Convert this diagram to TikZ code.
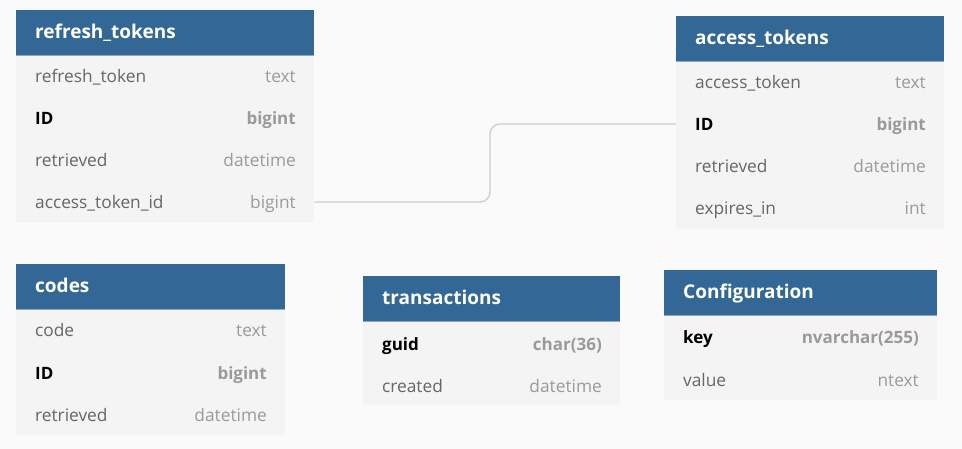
\documentclass[tikz,border=0pt]{standalone}
\usepackage{fontspec}
\setmainfont{Open Sans}
\definecolor{bg}{HTML}{FAFAFA}
\definecolor{hdrblue}{HTML}{336896}
\definecolor{hdrline}{HTML}{8FA9C2}
\definecolor{bodyfill}{HTML}{F4F4F4}
\definecolor{namegray}{HTML}{666666}
\definecolor{typegray}{HTML}{9A9A9A}
\definecolor{conngray}{HTML}{CCCCCC}
\begin{document}
\begin{tikzpicture}[x=1pt,y=-1pt,
  hdr/.style={fill=hdrblue, draw=none, anchor=north west, inner sep=0pt, minimum height=45pt},
  body/.style={fill=bodyfill, draw=none, anchor=north west, inner sep=0pt},
  title/.style={anchor=base west, inner sep=0pt, text=white, font=\fontsize{19pt}{22pt}\selectfont\bfseries},
  fname/.style={anchor=base west, inner sep=0pt, text=namegray, font=\fontsize{17.3pt}{20pt}\selectfont},
  ftype/.style={anchor=base east, inner sep=0pt, text=typegray, font=\fontsize{17.3pt}{20pt}\selectfont},
  kname/.style={anchor=base west, inner sep=0pt, text=black, font=\fontsize{17pt}{20pt}\selectfont\bfseries},
  ktype/.style={anchor=base east, inner sep=0pt, text=typegray, font=\fontsize{17pt}{20pt}\selectfont\bfseries},
  conn/.style={draw=conngray, line width=1.3pt, rounded corners=10pt}
]
\fill[bg] (0,0) rectangle (962,449);
\useasboundingbox (0,0) rectangle (962,449);

% refresh_tokens
\node[body, minimum width=298pt, minimum height=167pt] (rtb) at (16,55) {};
\node[hdr, minimum width=298pt] (rth) at (16,10) {};
\draw[hdrline, line width=0.8pt] (rth.south west) -- (rth.south east);
\node[title] (rtt) at (35,38.5) {refresh\_tokens};
\node[fname] (rt1) at (35,83) {refresh\_token};
\node[ftype] (rt1t) at (296,83) {text};
\node[kname] (rt2) at (35,125) {ID};
\node[ktype] (rt2t) at (296,125) {bigint};
\node[fname] (rt3) at (35,167) {retrieved};
\node[ftype] (rt3t) at (296,167) {datetime};
\node[fname] (rt4) at (35,209) {access\_token\_id};
\node[ftype] (rt4t) at (296,209) {bigint};

% access_tokens
\node[body, minimum width=268pt, minimum height=168pt] (atb) at (676,61) {};
\node[hdr, minimum width=268pt] (ath) at (676,16) {};
\draw[hdrline, line width=0.8pt] (ath.south west) -- (ath.south east);
\node[title] (att) at (695,44.5) {access\_tokens};
\node[fname] (at1) at (695,89) {access\_token};
\node[ftype] (at1t) at (926,89) {text};
\node[kname] (at2) at (695,131) {ID};
\node[ktype] (at2t) at (926,131) {bigint};
\node[fname] (at3) at (695,173) {retrieved};
\node[ftype] (at3t) at (926,173) {datetime};
\node[fname] (at4) at (695,215) {expires\_in};
\node[ftype] (at4t) at (926,215) {int};

% codes
\node[body, minimum width=269pt, minimum height=126pt] (cdb) at (16,309) {};
\node[hdr, minimum width=269pt] (cdh) at (16,264) {};
\draw[hdrline, line width=0.8pt] (cdh.south west) -- (cdh.south east);
\node[title] (cdt) at (35,292.5) {codes};
\node[fname] (cd1) at (35,337) {code};
\node[ftype] (cd1t) at (267,337) {text};
\node[kname] (cd2) at (35,379) {ID};
\node[ktype] (cd2t) at (267,379) {bigint};
\node[fname] (cd3) at (35,421) {retrieved};
\node[ftype] (cd3t) at (267,421) {datetime};

% transactions
\node[body, minimum width=257pt, minimum height=84pt] (trb) at (363,321) {};
\node[hdr, minimum width=257pt] (trh) at (363,276) {};
\draw[hdrline, line width=0.8pt] (trh.south west) -- (trh.south east);
\node[title] (trt) at (382,304.5) {transactions};
\node[kname] (tr1) at (382,350) {guid};
\node[ktype] (tr1t) at (602,350) {char(36)};
\node[fname] (tr2) at (382,392) {created};
\node[ftype] (tr2t) at (602,392) {datetime};

% Configuration
\node[body, minimum width=273pt, minimum height=85pt] (cfb) at (664,315) {};
\node[hdr, minimum width=273pt] (cfh) at (664,270) {};
\draw[hdrline, line width=0.8pt] (cfh.south west) -- (cfh.south east);
\node[title] (cft) at (683,298.5) {Configuration};
\node[kname] (cf1) at (683,344) {key};
\node[ktype] (cf1t) at (919,344) {nvarchar(255)};
\node[fname] (cf2) at (683,386) {value};
\node[ftype] (cf2t) at (919,386) {ntext};

% connector
\coordinate (mid) at (490,0);
\coordinate (c1) at (0,202);
\coordinate (c2) at (0,124);
\draw[conn] (rtb.east |- c1) -- (mid |- c1) -- (mid |- c2) -- (atb.west |- c2);
\end{tikzpicture}
\end{document}
